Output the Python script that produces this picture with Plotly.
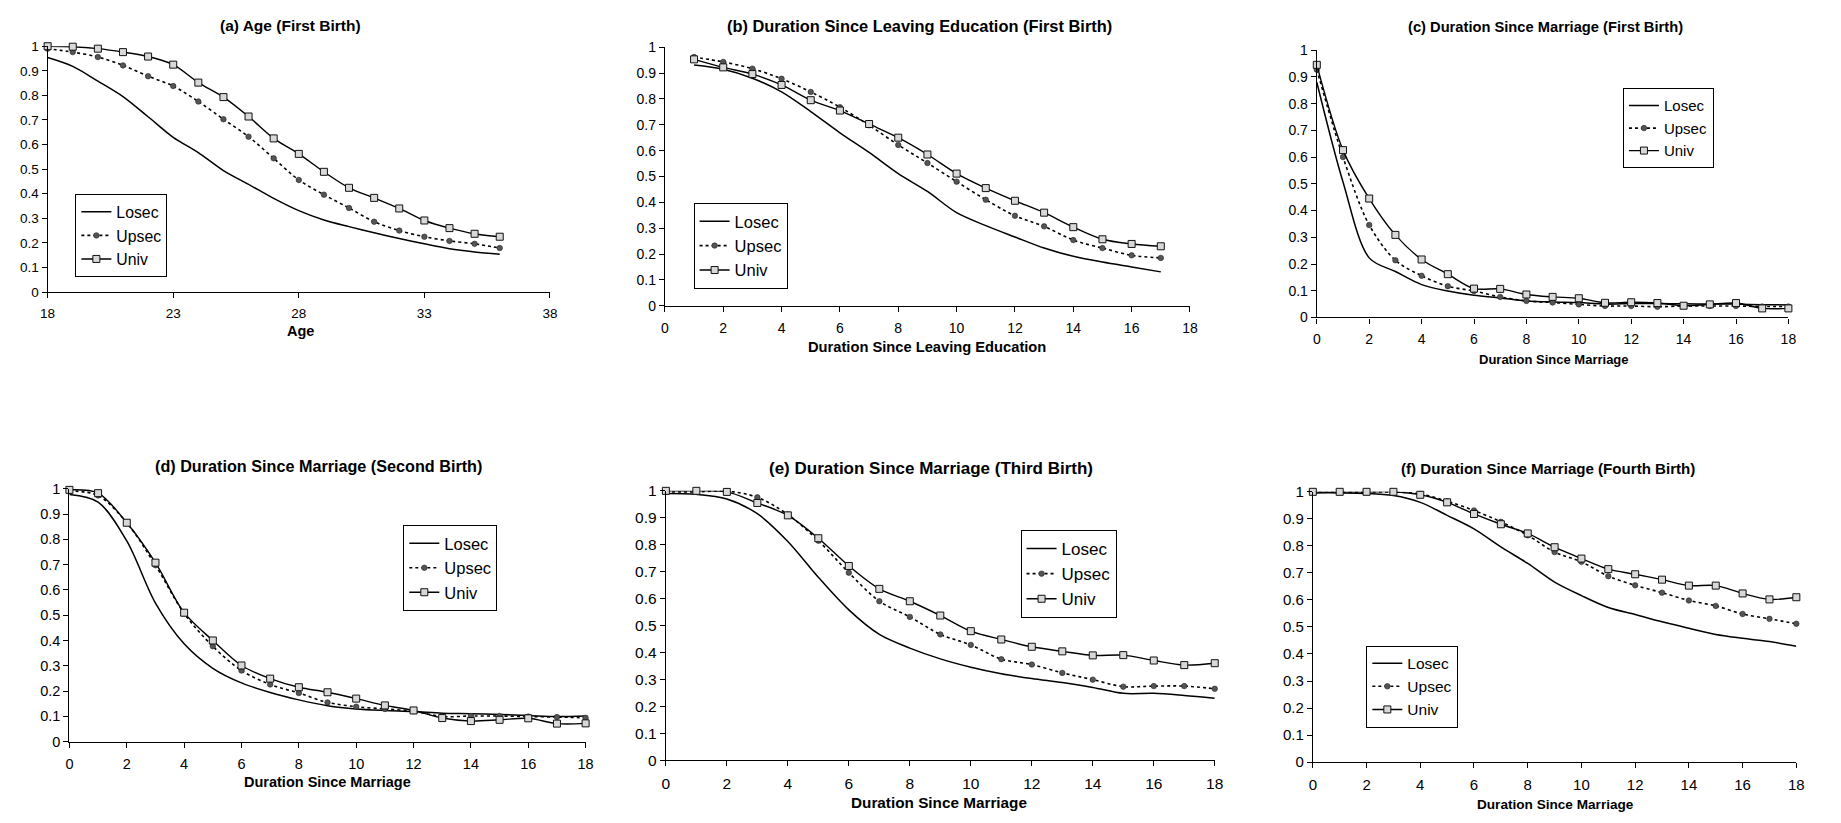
import plotly.graph_objects as go

W, H = 1841, 823

# ---------------- data ----------------
a_x = list(range(18, 37))
a_losec = [0.954, 0.918, 0.858, 0.795, 0.713, 0.629, 0.567, 0.494, 0.438, 0.381, 0.331, 0.293, 0.266, 0.241, 0.218, 0.196, 0.176, 0.163, 0.154]
a_upsec = [0.990, 0.976, 0.956, 0.922, 0.878, 0.838, 0.775, 0.703, 0.632, 0.544, 0.456, 0.396, 0.342, 0.286, 0.250, 0.225, 0.208, 0.196, 0.179]
a_univ = [1.000, 0.998, 0.990, 0.976, 0.958, 0.925, 0.852, 0.793, 0.714, 0.625, 0.562, 0.489, 0.424, 0.383, 0.340, 0.291, 0.260, 0.237, 0.225]

b_x = list(range(1, 18))
b_losec = [0.931, 0.915, 0.880, 0.827, 0.751, 0.669, 0.593, 0.511, 0.442, 0.360, 0.310, 0.266, 0.223, 0.191, 0.169, 0.150, 0.131]
b_upsec = [0.962, 0.943, 0.917, 0.878, 0.827, 0.768, 0.698, 0.622, 0.552, 0.480, 0.410, 0.348, 0.307, 0.254, 0.223, 0.195, 0.185]
b_univ = [0.953, 0.922, 0.896, 0.854, 0.795, 0.755, 0.703, 0.650, 0.585, 0.511, 0.455, 0.406, 0.360, 0.304, 0.257, 0.239, 0.230]

c_x = list(range(0, 19))
c_losec = [0.880, 0.507, 0.223, 0.172, 0.123, 0.099, 0.083, 0.073, 0.062, 0.058, 0.056, 0.050, 0.052, 0.052, 0.051, 0.050, 0.050, 0.048, 0.047]
c_upsec = [0.927, 0.600, 0.346, 0.214, 0.156, 0.117, 0.099, 0.077, 0.062, 0.056, 0.049, 0.043, 0.043, 0.040, 0.043, 0.043, 0.043, 0.041, 0.041]
c_univ = [0.945, 0.626, 0.445, 0.309, 0.217, 0.162, 0.108, 0.107, 0.086, 0.077, 0.072, 0.055, 0.057, 0.054, 0.044, 0.049, 0.054, 0.034, 0.034]

d_x = list(range(0, 19))
d_losec = [0.978, 0.948, 0.794, 0.548, 0.387, 0.290, 0.232, 0.194, 0.165, 0.142, 0.129, 0.123, 0.119, 0.112, 0.110, 0.107, 0.103, 0.099, 0.101]
d_upsec = [0.992, 0.974, 0.866, 0.698, 0.507, 0.377, 0.281, 0.226, 0.192, 0.155, 0.138, 0.129, 0.120, 0.099, 0.101, 0.101, 0.099, 0.097, 0.094]
d_univ = [0.996, 0.983, 0.866, 0.708, 0.510, 0.400, 0.301, 0.249, 0.215, 0.195, 0.170, 0.143, 0.123, 0.093, 0.081, 0.086, 0.092, 0.071, 0.072]

e_x = list(range(0, 19))
e_losec = [0.990, 0.987, 0.970, 0.915, 0.812, 0.679, 0.558, 0.467, 0.416, 0.376, 0.345, 0.321, 0.303, 0.288, 0.270, 0.248, 0.248, 0.240, 0.230]
e_upsec = [0.996, 0.996, 0.999, 0.976, 0.912, 0.815, 0.696, 0.590, 0.532, 0.467, 0.428, 0.375, 0.355, 0.324, 0.299, 0.273, 0.275, 0.275, 0.265]
e_univ = [1.000, 1.000, 0.996, 0.955, 0.909, 0.824, 0.721, 0.636, 0.590, 0.537, 0.479, 0.448, 0.421, 0.404, 0.389, 0.390, 0.370, 0.353, 0.360]

f_x = list(range(0, 19))
f_losec = [0.996, 0.996, 0.994, 0.986, 0.961, 0.913, 0.863, 0.796, 0.735, 0.666, 0.616, 0.572, 0.546, 0.519, 0.495, 0.472, 0.458, 0.446, 0.429]
f_upsec = [0.999, 0.999, 0.999, 0.999, 0.992, 0.965, 0.931, 0.889, 0.839, 0.777, 0.741, 0.688, 0.654, 0.627, 0.598, 0.578, 0.548, 0.530, 0.512]
f_univ = [1.000, 1.000, 1.000, 1.000, 0.989, 0.961, 0.918, 0.880, 0.846, 0.795, 0.753, 0.714, 0.695, 0.675, 0.653, 0.653, 0.624, 0.602, 0.610]

series_names = ["Losec", "Upsec", "Univ"]

titles = {
    "a": "(a) Age (First Birth)",
    "b": "(b) Duration Since Leaving Education (First Birth)",
    "c": "(c) Duration Since Marriage (First Birth)",
    "d": "(d) Duration Since Marriage (Second Birth)",
    "e": "(e) Duration Since Marriage (Third Birth)",
    "f": "(f) Duration Since Marriage (Fourth Birth)",
}
xlabels = {
    "a": "Age",
    "b": "Duration Since Leaving Education",
    "c": "Duration Since Marriage",
    "d": "Duration Since Marriage",
    "e": "Duration Since Marriage",
    "f": "Duration Since Marriage",
}
age_ticks = [18, 23, 28, 33, 38]
dur_ticks = list(range(0, 19, 2))
y_ticks = [0, 0.1, 0.2, 0.3, 0.4, 0.5, 0.6, 0.7, 0.8, 0.9, 1]
y_ticktext = ["0", "0.1", "0.2", "0.3", "0.4", "0.5", "0.6", "0.7", "0.8", "0.9", "1"]

data = {
    "a": (a_x, a_losec, a_upsec, a_univ),
    "b": (b_x, b_losec, b_upsec, b_univ),
    "c": (c_x, c_losec, c_upsec, c_univ),
    "d": (d_x, d_losec, d_upsec, d_univ),
    "e": (e_x, e_losec, e_upsec, e_univ),
    "f": (f_x, f_losec, f_upsec, f_univ),
}

# ---------------- layout (pixels) ----------------
FONT = "Liberation Sans, Arial, sans-serif"

P = {
    "a": dict(px=(40, 547), py=(38, 289), xr=(18, 38), xt=age_ticks, tx=285, ty=17, lx=295, ly=329,
              fs=13.5, tfs=15.5, xfs=14.5, leg=(68, 189), lfs=15.8),
    "b": dict(px=(663, 1193), py=(39, 303), xr=(0, 18), xt=dur_ticks, tx=920, ty=17, lx=928, ly=345,
              fs=14, tfs=16.4, xfs=14.7, leg=(692, 198), lfs=16.5),
    "c": dict(px=(1321, 1797), py=(42, 315), xr=(0, 18), xt=dur_ticks, tx=1552, ty=18, lx=1560, ly=358,
              fs=14, tfs=14.7, xfs=13, leg=(1630, 81), lfs=15),
    "d": dict(px=(62, 583), py=(490, 748), xr=(0, 18), xt=dur_ticks, tx=313, ty=467, lx=322, ly=789,
              fs=14.5, tfs=16.2, xfs=14.5, leg=(399, 527), lfs=16.5),
    "e": dict(px=(664, 1218), py=(492, 767), xr=(0, 18), xt=dur_ticks, tx=932, ty=469, lx=940, ly=810,
              fs=15.5, tfs=17, xfs=15.3, leg=(1022, 532), lfs=17),
    "f": dict(px=(1317, 1805), py=(493, 769), xr=(0, 18), xt=dur_ticks, tx=1554, ty=469, lx=1562, ly=812,
              fs=15, tfs=15.1, xfs=13.6, leg=(1371, 650), lfs=15.5),
}

fig = go.Figure()
annotations = []
layout = dict(width=W, height=H, margin=dict(l=0, r=0, t=0, b=0), autosize=False,
              paper_bgcolor="white", plot_bgcolor="white", showlegend=True)

styles = [
    dict(mode="lines", line=dict(color="black", width=1.5, dash="solid", shape="spline", smoothing=0.9)),
    dict(mode="lines+markers", line=dict(color="black", width=1.6, dash="dot", shape="spline", smoothing=0.9),
         marker=dict(symbol="circle", size=5.5, color="#555555", line=dict(color="#222222", width=0.6))),
    dict(mode="lines+markers", line=dict(color="black", width=1.4, dash="solid", shape="spline", smoothing=0.9),
         marker=dict(symbol="square", size=7, color="#d8d8d8", line=dict(color="#111111", width=1))),
]

for i, k in enumerate(["a", "b", "c", "d", "e", "f"]):
    p = P[k]
    n = i + 1
    xa = "x" if n == 1 else f"x{n}"
    ya = "y" if n == 1 else f"y{n}"
    lg = "legend" if n == 1 else f"legend{n}"
    xs, lo, up, un = data[k]
    for j, (nm, ys) in enumerate(zip(series_names, (lo, up, un))):
        fig.add_trace(go.Scatter(x=xs, y=ys, name=nm, xaxis=xa, yaxis=ya, legend=lg,
                                 legendgroup=f"{k}{j}", cliponaxis=False, **styles[j]))
    x0, x1 = p["px"][0] / W, p["px"][1] / W
    y0, y1 = 1 - p["py"][1] / H, 1 - p["py"][0] / H
    xkey = "xaxis" if n == 1 else f"xaxis{n}"
    ykey = "yaxis" if n == 1 else f"yaxis{n}"
    layout[xkey] = dict(domain=[x0, x1], range=list(p["xr"]), anchor=ya, showgrid=False, zeroline=False,
                        showline=True, linecolor="black", linewidth=1.2, ticks="outside", ticklen=5,
                        tickcolor="black", tickvals=p["xt"], ticktext=[str(t) for t in p["xt"]],
                        ticklabelstandoff=4,
                        tickfont=dict(family=FONT, size=p["fs"], color="black"), fixedrange=True)
    layout[ykey] = dict(domain=[y0, y1], range=[0, 1], anchor=xa, showgrid=False, zeroline=False,
                        showline=True, linecolor="black", linewidth=1.2, ticks="outside", ticklen=5,
                        tickcolor="black", tickvals=y_ticks, ticktext=y_ticktext,
                        tickfont=dict(family=FONT, size=p["fs"], color="black"), fixedrange=True)
    layout[lg] = dict(x=p["leg"][0] / W, y=1 - p["leg"][1] / H, xanchor="left", yanchor="top",
                      xref="paper", yref="paper", bgcolor="white", bordercolor="black", borderwidth=1,
                      font=dict(family=FONT, size=p["lfs"], color="black"),
                      itemwidth=30, tracegroupgap=1, traceorder="normal")
    annotations.append(dict(x=p["tx"] / W, y=1 - p["ty"] / H, xref="paper", yref="paper",
                            text=f"<b>{titles[k]}</b>", showarrow=False, xanchor="center", yanchor="middle",
                            font=dict(family=FONT, size=p["tfs"], color="black")))
    annotations.append(dict(x=p["lx"] / W, y=1 - p["ly"] / H, xref="paper", yref="paper",
                            text=f"<b>{xlabels[k]}</b>", showarrow=False, xanchor="center", yanchor="middle",
                            font=dict(family=FONT, size=p["xfs"], color="black")))

layout["annotations"] = annotations
fig.update_layout(**layout)
fig.write_html("out.html", config={"displayModeBar": False},
               post_script="document.body.style.margin='0';document.body.style.overflow='hidden';")
